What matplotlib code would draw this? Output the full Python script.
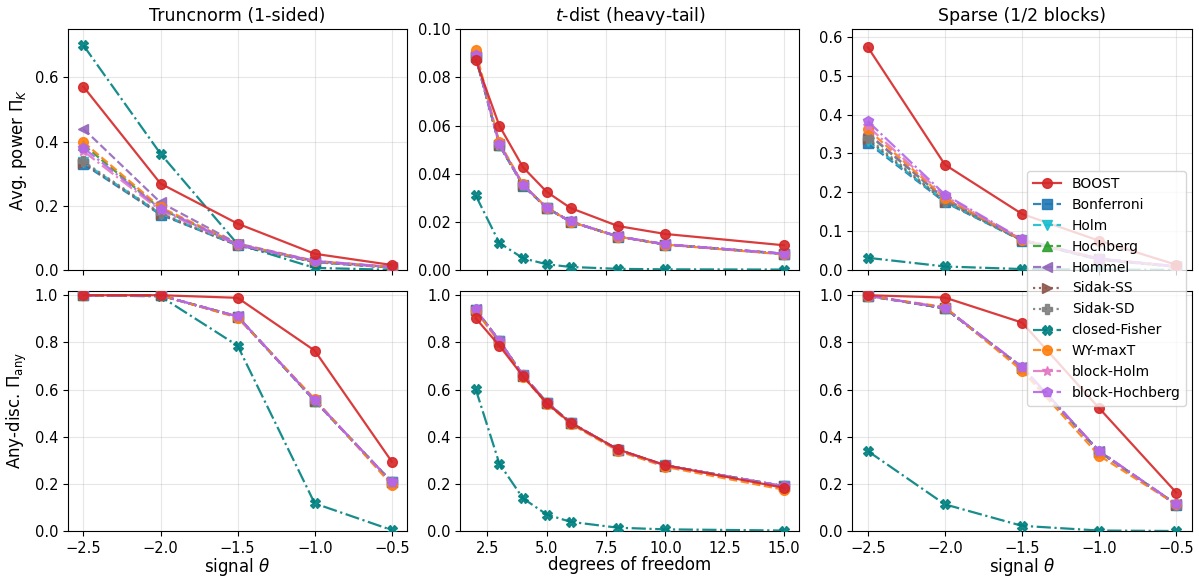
import numpy as np
import matplotlib
matplotlib.use("Agg")
import matplotlib.pyplot as plt
from matplotlib.ticker import MultipleLocator

# x grids
theta = [-2.5, -2.0, -1.5, -1.0, -0.5]
dof = [2, 3, 4, 5, 6, 8, 10, 15]

methods = ["BOOST", "Bonferroni", "Holm", "Hochberg", "Hommel", "Sidak-SS",
           "Sidak-SD", "closed-Fisher", "WY-maxT", "block-Holm", "block-Hochberg"]

# avg. power, truncnorm
tn_power = {
    "BOOST":          [0.571, 0.269, 0.144, 0.050, 0.015],
    "Bonferroni":     [0.330, 0.172, 0.076, 0.024, 0.007],
    "Holm":           [0.335, 0.175, 0.077, 0.025, 0.007],
    "Hochberg":       [0.390, 0.190, 0.079, 0.026, 0.008],
    "Hommel":         [0.440, 0.210, 0.082, 0.028, 0.009],
    "Sidak-SS":       [0.333, 0.174, 0.076, 0.024, 0.007],
    "Sidak-SD":       [0.338, 0.176, 0.077, 0.025, 0.007],
    "closed-Fisher":  [0.700, 0.362, 0.080, 0.006, 0.000],
    "WY-maxT":        [0.398, 0.195, 0.080, 0.027, 0.008],
    "block-Holm":     [0.370, 0.185, 0.078, 0.026, 0.008],
    "block-Hochberg": [0.380, 0.190, 0.079, 0.027, 0.008],
}

# avg. power, t-dist
td_power = {
    "BOOST":          [0.0873, 0.0599, 0.0426, 0.0324, 0.0257, 0.0182, 0.0149, 0.0102],
    "Bonferroni":     [0.0885, 0.0518, 0.0350, 0.0256, 0.0200, 0.0138, 0.0105, 0.0066],
    "Holm":           [0.0886, 0.0519, 0.0351, 0.0257, 0.0200, 0.0138, 0.0105, 0.0066],
    "Hochberg":       [0.0890, 0.0521, 0.0353, 0.0258, 0.0201, 0.0139, 0.0106, 0.0067],
    "Hommel":         [0.0891, 0.0522, 0.0353, 0.0258, 0.0201, 0.0139, 0.0106, 0.0067],
    "Sidak-SS":       [0.0887, 0.0519, 0.0351, 0.0257, 0.0200, 0.0138, 0.0105, 0.0066],
    "Sidak-SD":       [0.0888, 0.0520, 0.0352, 0.0257, 0.0200, 0.0138, 0.0105, 0.0066],
    "closed-Fisher":  [0.0310, 0.0112, 0.0048, 0.0023, 0.0012, 0.0004, 0.0002, 0.0001],
    "WY-maxT":        [0.0912, 0.0530, 0.0355, 0.0258, 0.0200, 0.0138, 0.0105, 0.0064],
    "block-Holm":     [0.0892, 0.0521, 0.0353, 0.0258, 0.0201, 0.0139, 0.0106, 0.0067],
    "block-Hochberg": [0.0894, 0.0522, 0.0353, 0.0258, 0.0201, 0.0139, 0.0106, 0.0067],
}

# avg. power, sparse
sp_power = {
    "BOOST":          [0.574, 0.271, 0.144, 0.075, 0.013],
    "Bonferroni":     [0.327, 0.174, 0.075, 0.026, 0.008],
    "Holm":           [0.332, 0.176, 0.076, 0.027, 0.008],
    "Hochberg":       [0.350, 0.182, 0.077, 0.028, 0.009],
    "Hommel":         [0.352, 0.183, 0.077, 0.028, 0.009],
    "Sidak-SS":       [0.336, 0.176, 0.076, 0.027, 0.008],
    "Sidak-SD":       [0.340, 0.178, 0.076, 0.027, 0.008],
    "closed-Fisher":  [0.031, 0.0086, 0.002, 0.0005, 0.000],
    "WY-maxT":        [0.362, 0.185, 0.077, 0.028, 0.009],
    "block-Holm":     [0.370, 0.190, 0.078, 0.028, 0.009],
    "block-Hochberg": [0.383, 0.194, 0.079, 0.029, 0.009],
}

# any-discovery, truncnorm
tn_any = {
    "BOOST":          [1.000, 1.000, 0.989, 0.765, 0.294],
    "Bonferroni":     [1.000, 0.999, 0.908, 0.552, 0.206],
    "Holm":           [1.000, 0.999, 0.909, 0.553, 0.206],
    "Hochberg":       [1.000, 0.999, 0.910, 0.553, 0.207],
    "Hommel":         [1.000, 0.999, 0.910, 0.554, 0.207],
    "Sidak-SS":       [1.000, 0.999, 0.908, 0.552, 0.206],
    "Sidak-SD":       [1.000, 0.999, 0.909, 0.553, 0.206],
    "closed-Fisher":  [1.000, 0.995, 0.786, 0.117, 0.004],
    "WY-maxT":        [1.000, 1.000, 0.905, 0.560, 0.195],
    "block-Holm":     [1.000, 0.999, 0.910, 0.554, 0.207],
    "block-Hochberg": [1.000, 0.999, 0.910, 0.554, 0.207],
}

# any-discovery, t-dist
td_any = {
    "BOOST":          [0.903, 0.786, 0.656, 0.542, 0.459, 0.346, 0.279, 0.183],
    "Bonferroni":     [0.938, 0.805, 0.659, 0.544, 0.459, 0.344, 0.277, 0.189],
    "Holm":           [0.939, 0.806, 0.660, 0.545, 0.460, 0.345, 0.278, 0.190],
    "Hochberg":       [0.940, 0.807, 0.660, 0.545, 0.460, 0.345, 0.278, 0.190],
    "Hommel":         [0.940, 0.807, 0.661, 0.545, 0.460, 0.345, 0.278, 0.190],
    "Sidak-SS":       [0.938, 0.805, 0.659, 0.544, 0.459, 0.344, 0.277, 0.189],
    "Sidak-SD":       [0.939, 0.806, 0.660, 0.545, 0.460, 0.345, 0.278, 0.190],
    "closed-Fisher":  [0.603, 0.286, 0.138, 0.070, 0.039, 0.014, 0.007, 0.002],
    "WY-maxT":        [0.935, 0.800, 0.655, 0.540, 0.455, 0.340, 0.272, 0.175],
    "block-Holm":     [0.940, 0.807, 0.661, 0.545, 0.460, 0.345, 0.278, 0.190],
    "block-Hochberg": [0.940, 0.807, 0.661, 0.545, 0.460, 0.345, 0.278, 0.190],
}

# any-discovery, sparse
sp_any = {
    "BOOST":          [1.000, 0.990, 0.884, 0.521, 0.163],
    "Bonferroni":     [0.997, 0.944, 0.692, 0.336, 0.112],
    "Holm":           [0.997, 0.945, 0.693, 0.337, 0.112],
    "Hochberg":       [0.997, 0.946, 0.694, 0.338, 0.113],
    "Hommel":         [0.997, 0.946, 0.694, 0.338, 0.113],
    "Sidak-SS":       [0.997, 0.944, 0.692, 0.336, 0.112],
    "Sidak-SD":       [0.997, 0.945, 0.693, 0.337, 0.112],
    "closed-Fisher":  [0.339, 0.113, 0.022, 0.002, 0.000],
    "WY-maxT":        [0.997, 0.950, 0.680, 0.320, 0.113],
    "block-Holm":     [0.997, 0.946, 0.695, 0.339, 0.113],
    "block-Hochberg": [0.998, 0.947, 0.696, 0.340, 0.114],
}

styles = {
    "BOOST":          dict(color="#d62728", marker="o", ls="-"),
    "Bonferroni":     dict(color="#1f77b4", marker="s", ls="--"),
    "Holm":           dict(color="#17becf", marker="v", ls="--"),
    "Hochberg":       dict(color="#2ca02c", marker="^", ls="--"),
    "Hommel":         dict(color="#9467bd", marker="<", ls="--"),
    "Sidak-SS":       dict(color="#8c564b", marker=">", ls=":"),
    "Sidak-SD":       dict(color="#7f7f7f", marker="P", ls=":"),
    "closed-Fisher":  dict(color="#008080", marker="X", ls="-."),
    "WY-maxT":        dict(color="#ff7f0e", marker="o", ls="--"),
    "block-Holm":     dict(color="#e377c2", marker="*", ls="-."),
    "block-Hochberg": dict(color="#b266e8", marker="p", ls="-."),
}

fig, axes = plt.subplots(2, 3, figsize=(11.99, 5.77), dpi=100, sharex="col")
fig.subplots_adjust(left=0.0567, right=0.9939, top=0.9492, bottom=0.0797,
                    wspace=0.156, hspace=0.086)

panels = [
    (axes[0, 0], theta, tn_power, (0, 0.75), 0.2),
    (axes[0, 1], dof, td_power, (0, 0.10), 0.02),
    (axes[0, 2], theta, sp_power, (0, 0.62), 0.1),
    (axes[1, 0], theta, tn_any, (0, 1.02), 0.2),
    (axes[1, 1], dof, td_any, (0, 1.02), 0.2),
    (axes[1, 2], theta, sp_any, (0, 1.02), 0.2),
]

for ax, xs, res, ylim, ystep in panels:
    for m in methods:
        st = styles[m]
        ax.plot(xs, res[m], color=st["color"], marker=st["marker"],
                linestyle=st["ls"], lw=1.6, ms=7, alpha=0.9,
                zorder=4 if m == "BOOST" else 3, label=m)
    ax.set_ylim(*ylim)
    ax.yaxis.set_major_locator(MultipleLocator(ystep))
    ax.grid(True, alpha=0.3)
    ax.tick_params(labelsize=10.5)

axes[1, 1].xaxis.set_major_locator(MultipleLocator(2.5))

axes[0, 0].set_title("Truncnorm (1-sided)", fontsize=12.5)
axes[0, 1].set_title("$t$-dist (heavy-tail)", fontsize=12.5)
axes[0, 2].set_title("Sparse (1/2 blocks)", fontsize=12.5)
axes[0, 0].set_ylabel(r"Avg. power $\Pi_K$", fontsize=12)
axes[1, 0].set_ylabel(r"Any-disc. $\Pi_{\rm any}$", fontsize=12)
axes[1, 0].set_xlabel(r"signal $\theta$", fontsize=12, labelpad=0.5)
axes[1, 1].set_xlabel("degrees of freedom", fontsize=12, labelpad=0.5)
axes[1, 2].set_xlabel(r"signal $\theta$", fontsize=12, labelpad=0.5)

handles, labels = axes[0, 0].get_legend_handles_labels()
fig.legend(handles, labels, loc="center right", bbox_to_anchor=(0.995, 0.5),
           fontsize=10)

fig.savefig("out.png", dpi=100)
